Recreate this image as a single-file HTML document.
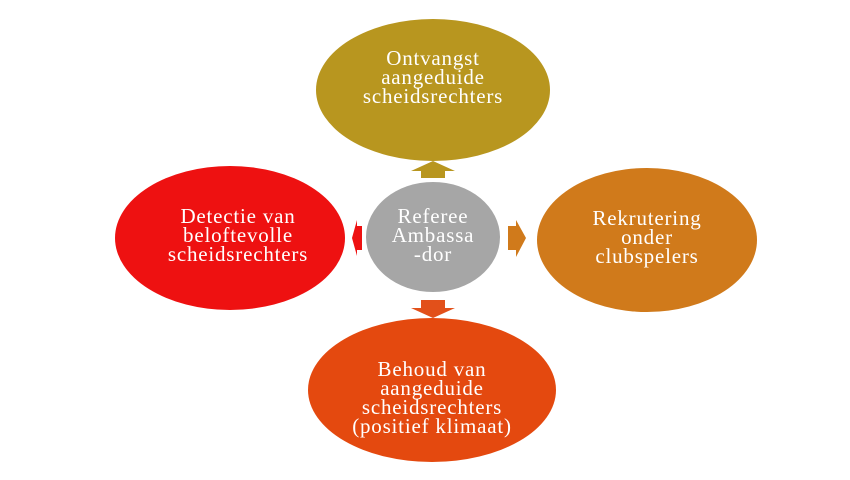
<!DOCTYPE html>
<html><head><style>
body{margin:0;background:#fff;width:850px;height:475px;overflow:hidden}
text{font-family:"Liberation Serif",serif;font-size:21px;letter-spacing:0.8px;fill:#fff;text-anchor:middle}
</style></head><body>
<svg width="850" height="475" viewBox="0 0 850 475">
<ellipse cx="433" cy="90" rx="117" ry="71" fill="#B8961F"/>
<ellipse cx="230" cy="238" rx="115" ry="72" fill="#EE1111"/>
<ellipse cx="647" cy="240" rx="110" ry="72" fill="#D07A1B"/>
<ellipse cx="432" cy="390" rx="124" ry="72" fill="#E4490F"/>
<ellipse cx="433" cy="237" rx="67" ry="55" fill="#A6A6A6"/>
<polygon points="421,178 445,178 445,171 455,171 433,161 411,171 421,171" fill="#B8961F"/>
<polygon points="421,300 445,300 445,308 455,308 433,318 411,308 421,308" fill="#E2501A"/>
<polygon points="362,226 362,250 357,250 357,256 352,238 357,220 357,226" fill="#EE1111"/>
<polygon points="508,226 508,250 516,250 516,257 526,238 516,220 516,226" fill="#D07A1B"/>
<text x="433" y="65">Ontvangst</text>
<text x="433" y="84">aangeduide</text>
<text x="433" y="103">scheidsrechters</text>
<text x="238" y="223">Detectie van</text>
<text x="238" y="242">beloftevolle</text>
<text x="238" y="261">scheidsrechters</text>
<text x="433" y="223">Referee</text>
<text x="433" y="242">Ambassa</text>
<text x="433" y="261">-dor</text>
<text x="647" y="225">Rekrutering</text>
<text x="647" y="244">onder</text>
<text x="647" y="263">clubspelers</text>
<text x="432" y="376">Behoud van</text>
<text x="432" y="395">aangeduide</text>
<text x="432" y="414">scheidsrechters</text>
<text x="432" y="433">(positief klimaat)</text>
</svg>
</body></html>
